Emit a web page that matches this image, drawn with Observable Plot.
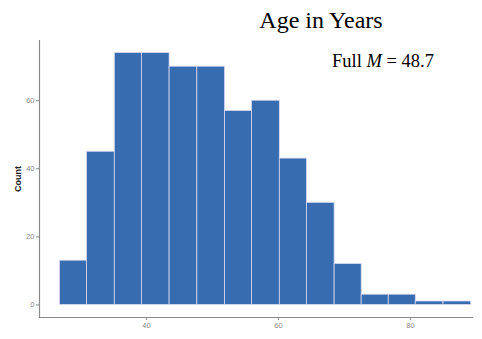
<!DOCTYPE html>
<html>
<head>
<meta charset="utf-8">
<script src="https://cdn.jsdelivr.net/npm/d3@7"></script>
<script src="https://cdn.jsdelivr.net/npm/@observablehq/plot@0.6"></script>
<style>
  html, body { margin: 0; padding: 0; background: #fff; }
  #wrap { position: relative; width: 482px; height: 339px; }
  #title { position: absolute; left: 0; width: 642px; top: 8px; text-align: center; line-height: 1;
           font-family: "Liberation Serif", "Times New Roman", serif; font-size: 24px; color: #000; }
  #note { position: absolute; left: 332px; top: 52px; line-height: 1;
          font-family: "Liberation Serif", "Times New Roman", serif; font-size: 18.5px; color: #000; }
</style>
</head>
<body>
<div id="wrap">
  <div id="chart"></div>
  <div id="title">Age in Years</div>
  <div id="note">Full <i>M</i> = 48.7</div>
</div>
<script>
const binEdges = [26.9, 31.0, 35.2, 39.3, 43.5, 47.7, 51.9, 56.0, 60.2, 64.3, 68.5, 72.6, 76.7, 80.8, 85.0, 89.2];
const counts = [13, 45, 74, 74, 70, 70, 57, 60, 43, 30, 12, 3, 3, 1, 1];
const yTicks = [0, 20, 40, 60];
const xTicks = [40, 60, 80];

const bins = counts.map((c, i) => ({ x1: binEdges[i], x2: binEdges[i + 1], count: c }));

const chart = Plot.plot({
  width: 482,
  height: 339,
  marginLeft: 39,
  marginRight: 10,
  marginTop: 40,
  marginBottom: 22,
  x: { domain: [23.79, 89.39] },
  y: { domain: [-3.7, 77.7] },
  style: { fontFamily: "Liberation Sans, Arial, sans-serif", background: "#fff" },
  marks: [
    Plot.rectY(bins, { x1: "x1", x2: "x2", y1: 0, y2: "count", fill: "#386cb0", stroke: "#d6d8f0", strokeWidth: 0.8 }),
    Plot.frame({ anchor: "left", stroke: "#8a8a8a", strokeWidth: 1.2 }),
    Plot.frame({ anchor: "bottom", stroke: "#8a8a8a", strokeWidth: 1.2 }),
    Plot.axisY({ ticks: yTicks, tickSize: 3, tickPadding: 2, fontSize: 7.5, color: "#8a8a8a",
                 label: "Count", labelAnchor: "center", labelOffset: 25 }),
    Plot.axisX({ ticks: xTicks, tickSize: 3, tickPadding: 2, fontSize: 7.5, color: "#8a8a8a", label: null })
  ]
});
document.getElementById("chart").appendChild(chart);
// style the axis label
chart.querySelectorAll("g[aria-label='y-axis label'] text").forEach(t => {
  t.textContent = "Count";
  t.setAttribute("fill", "#222"); t.setAttribute("font-weight", "bold"); t.setAttribute("font-size", "9");
});
</script>
</body>
</html>
